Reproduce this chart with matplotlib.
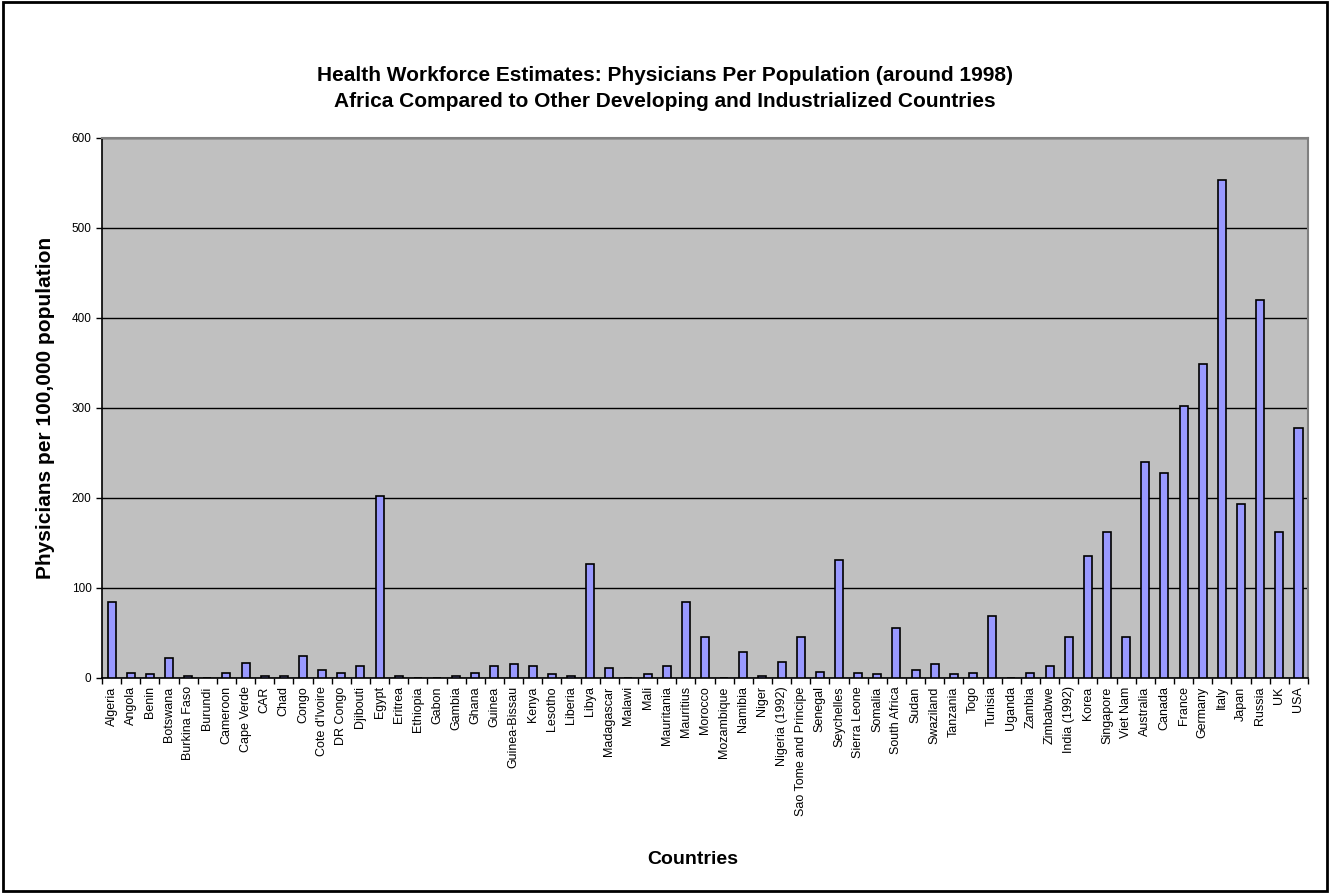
import matplotlib.pyplot as plt
import numpy as np
from matplotlib.patches import Rectangle

plt.rcParams['font.family'] = ['Liberation Sans', 'DejaVu Sans']

countries = [
    'Algeria', 'Angola', 'Benin', 'Botswana', 'Burkina Faso', 'Burundi',
    'Cameroon', 'Cape Verde', 'CAR', 'Chad', 'Congo', "Cote d'Ivoire",
    'DR Congo', 'Djibouti', 'Egypt', 'Eritrea', 'Ethiopia', 'Gabon',
    'Gambia', 'Ghana', 'Guinea', 'Guinea-Bissau', 'Kenya', 'Lesotho',
    'Liberia', 'Libya', 'Madagascar', 'Malawi', 'Mali', 'Mauritania',
    'Mauritius', 'Morocco', 'Mozambique', 'Namibia', 'Niger',
    'Nigeria (1992)', 'Sao Tome and Principe', 'Senegal', 'Seychelles',
    'Sierra Leone', 'Somalia', 'South Africa', 'Sudan', 'Swaziland',
    'Tanzania', 'Togo', 'Tunisia', 'Uganda', 'Zambia', 'Zimbabwe',
    'India (1992)', 'Korea', 'Singapore', 'Viet Nam', 'Australia', 'Canada',
    'France', 'Germany', 'Italy', 'Japan', 'Russia', 'UK', 'USA',
]

physicians = [
    84, 6, 4, 22, 2, 0,
    6, 17, 2, 2, 24, 9,
    6, 13, 202, 2, 0, 0,
    2, 6, 13, 15, 13, 4,
    2, 127, 11, 0, 4, 13,
    84, 46, 0, 29, 2,
    18, 46, 7, 131,
    6, 4, 56, 9, 15,
    4, 6, 69, 0, 6, 13,
    46, 136, 162, 46, 240, 228,
    302, 349, 553, 193, 420, 162, 278,
]

fig = plt.figure(figsize=(13.3, 8.93), dpi=100)
ax = fig.add_axes([0.0767, 0.2408, 0.9068, 0.6047])

x = np.arange(len(countries))
ax.set_facecolor('#C0C0C0')
ax.bar(x, physicians, width=0.42, color='#9999FF', edgecolor='black',
       linewidth=1.2, zorder=3)

ax.set_xlim(-0.5, len(countries) - 0.5)
ax.set_ylim(0, 600)
ax.set_yticks(range(0, 601, 100))
ax.yaxis.grid(True, color='black', linewidth=1)
ax.set_axisbelow(True)

# labels at bar centres, tick marks between categories
ax.set_xticks(x)
ax.set_xticklabels(countries, rotation=90, fontsize=9)
ax.tick_params(axis='x', length=0, pad=6)
ax.set_xticks(np.arange(-0.5, len(countries)), minor=True)
ax.tick_params(axis='x', which='minor', length=4, width=1, direction='out')
ax.tick_params(axis='y', labelsize=8.5, length=4, width=1, direction='out')

for side in ('top', 'right'):
    ax.spines[side].set_color('#808080')
    ax.spines[side].set_linewidth(1.5)
for side in ('left', 'bottom'):
    ax.spines[side].set_color('black')
    ax.spines[side].set_linewidth(1.2)

ax.set_ylabel('Physicians per 100,000 population', fontsize=15,
              fontweight='bold', labelpad=12)
ax.set_xlabel('Countries', fontsize=14, fontweight='bold')
ax.xaxis.set_label_coords(0.49, -0.32)

fig.text(0.5, 0.915, 'Health Workforce Estimates: Physicians Per Population (around 1998)',
         ha='center', va='center', fontsize=15, fontweight='bold')
fig.text(0.5, 0.886, 'Africa Compared to Other Developing and Industrialized Countries',
         ha='center', va='center', fontsize=15, fontweight='bold')

fig.patches.append(Rectangle((0.002, 0.002), 0.996, 0.996, transform=fig.transFigure,
                             fill=False, edgecolor='black', linewidth=2))

fig.savefig('out.png', dpi=100)
